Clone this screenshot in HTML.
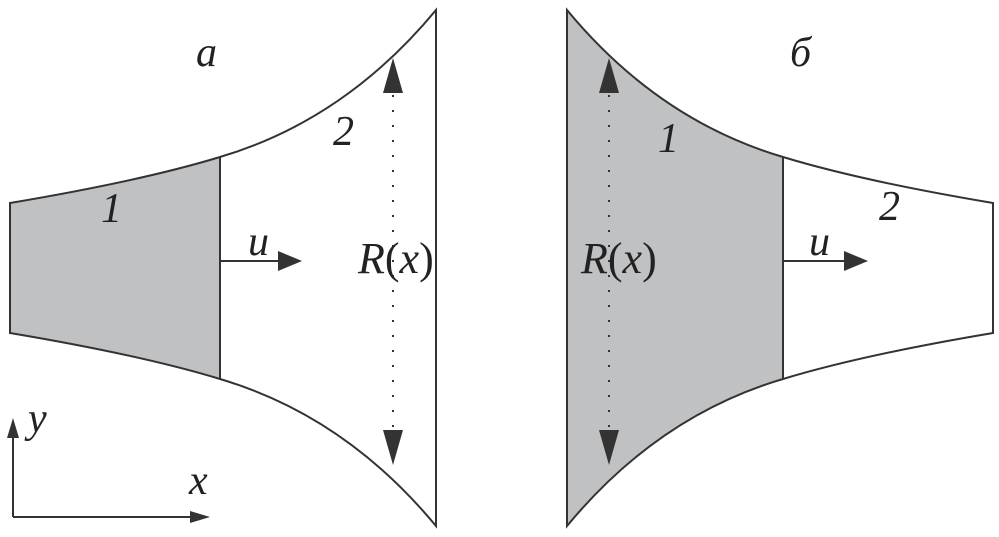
<!DOCTYPE html>
<html><head><meta charset="utf-8"><style>
html,body{margin:0;padding:0;background:#fff;}
svg{display:block}
text{font-family:"Liberation Serif",serif;font-style:italic;fill:#222;}
</style></head><body>
<svg width="999" height="537" viewBox="0 0 999 537">
<g>
<path d="M10,203 Q141,181 220,157 L220,379 Q141,355 10,333 Z" fill="#c0c1c3"/>
<path d="M10,203 Q141,181 220,157 Q345,120 436,10 L436,526 Q345,416 220,379 Q141,355 10,333 Z" fill="none" stroke="#333" stroke-width="2"/>
<line x1="220" y1="157" x2="220" y2="379" stroke="#333" stroke-width="2"/>
</g>
<g transform="translate(1003,0) scale(-1,1)">
<path d="M220,157 Q345,120 436,10 L436,526 Q345,416 220,379 Z" fill="#c0c1c3"/>
<path d="M10,203 Q141,181 220,157 Q345,120 436,10 L436,526 Q345,416 220,379 Q141,355 10,333 Z" fill="none" stroke="#333" stroke-width="2"/>
<line x1="220" y1="157" x2="220" y2="379" stroke="#333" stroke-width="2"/>
</g>
<line x1="393" y1="95" x2="393" y2="430" stroke="#333" stroke-width="2" stroke-dasharray="2,13"/>
<path d="M393,58 L383,93 L403,93 Z" fill="#333"/>
<path d="M393,465 L383,430 L403,430 Z" fill="#333"/>
<line x1="609" y1="95" x2="609" y2="430" stroke="#333" stroke-width="2" stroke-dasharray="2,13"/>
<path d="M609,58 L599,93 L619,93 Z" fill="#333"/>
<path d="M609,465 L599,430 L619,430 Z" fill="#333"/>
<line x1="221" y1="261" x2="282" y2="261" stroke="#333" stroke-width="2"/>
<path d="M302,261 L278,251 L278,271 Z" fill="#333"/>
<line x1="783" y1="261" x2="848" y2="261" stroke="#333" stroke-width="2"/>
<path d="M868,261 L844,251 L844,271 Z" fill="#333"/>
<path d="M13,517 L13,430 M13,517 L200,517" stroke="#333" stroke-width="2" fill="none"/>
<path d="M13,418 L7,438 L19,438 Z" fill="#333"/>
<path d="M210,517 L190,511 L190,523 Z" fill="#333"/>
<text x="196" y="66" font-size="42">a</text>
<text x="333" y="145" font-size="42">2</text>
<text x="101" y="222" font-size="42">1</text>
<text x="248" y="255" font-size="42">u</text>
<text x="358" y="273" font-size="44">R<tspan font-style="normal">(</tspan>x<tspan font-style="normal">)</tspan></text>
<text x="28" y="432" font-size="42">y</text>
<text x="189" y="494" font-size="42">x</text>
<text x="790" y="66" font-size="42">б</text>
<text x="658" y="152" font-size="42">1</text>
<text x="879" y="220" font-size="42">2</text>
<text x="809" y="255" font-size="42">u</text>
<text x="581" y="273" font-size="44">R<tspan font-style="normal">(</tspan>x<tspan font-style="normal">)</tspan></text>
</svg>
</body></html>
